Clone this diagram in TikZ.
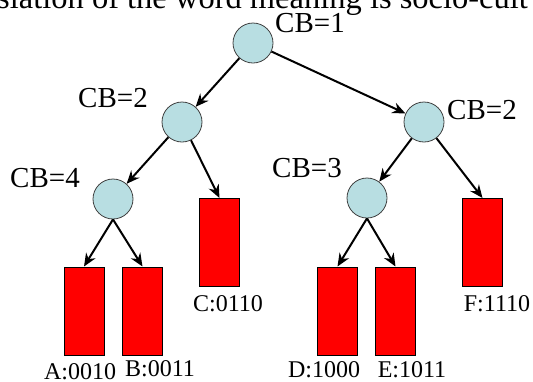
\documentclass[tikz,border=0pt]{standalone}
\usepackage{fontspec}
\setmainfont{Liberation Serif}
\usepackage{xcolor}
\usepackage{tikz}
\usetikzlibrary{arrows.meta}
\definecolor{nodeblue}{RGB}{184,222,226}

\begin{document}
\begin{tikzpicture}[x=1pt, y=-1pt,
  split/.style={circle, draw=black!75, fill=nodeblue, line width=0.8pt, minimum size=40pt, inner sep=0pt},
  leaf/.style={rectangle, draw=black, fill=red, line width=1pt, minimum width=40pt, minimum height=88pt, inner sep=0pt},
  cb/.style={font=\fontsize{29}{29}\selectfont, inner sep=0pt},
  code/.style={font=\fontsize{24}{24}\selectfont, inner sep=0pt},
  edge/.style={-{Stealth[length=13pt,width=11pt]}, line width=2pt}]
  \useasboundingbox (0,0) rectangle (533,381);
  \node[anchor=base west, inner sep=0pt, font=\fontsize{32.5}{33}\selectfont] (line) at (-3,8) {slation of the word meaning is socio-cult};
  % split nodes
  \node[split] (root) at (253,43) {};
  \node[split] (l2) at (182,122) {};
  \node[split] (r2) at (424,122) {};
  \node[split] (l4) at (113,199) {};
  \node[split] (r3) at (367,198) {};
  \node[cb] (cb1) at (310,23) {CB=1};
  \node[cb] (cbl) at (113,98) {CB=2};
  \node[cb] (cbr) at (482,110) {CB=2};
  \node[cb] (cb4) at (45,178) {CB=4};
  \node[cb] (cb3) at (307,168) {CB=3};
  % leaves
  \node[leaf] (a) at (84,311) {};
  \node[leaf] (b) at (142.5,311) {};
  \node[leaf] (c) at (219.5,242.5) {};
  \node[leaf] (d) at (337.5,311) {};
  \node[leaf] (e) at (395.5,311) {};
  \node[leaf] (f) at (482.5,242.5) {};
  \node[code] (la) at (80,372) {A:0010};
  \node[code] (lb) at (160,369) {B:0011};
  \node[code] (lc) at (228,304) {C:0110};
  \node[code] (ld) at (324,370) {D:1000};
  \node[code] (le) at (412,370) {E:1011};
  \node[code] (lf) at (497,304) {F:1110};
  % edges
  \draw[edge] (root) -- (l2);
  \draw[edge] (root) -- (r2);
  \draw[edge] (l2) -- (l4);
  \draw[edge] (l2) -- (c.north);
  \draw[edge] (r2) -- (r3);
  \draw[edge] (r2) -- (f.north);
  \draw[edge] (l4.south) -- (a.north);
  \draw[edge] (l4.south) -- (b.north);
  \draw[edge] (r3.south) -- (d.north);
  \draw[edge] (r3.south) -- (e.north);
\end{tikzpicture}
\end{document}
